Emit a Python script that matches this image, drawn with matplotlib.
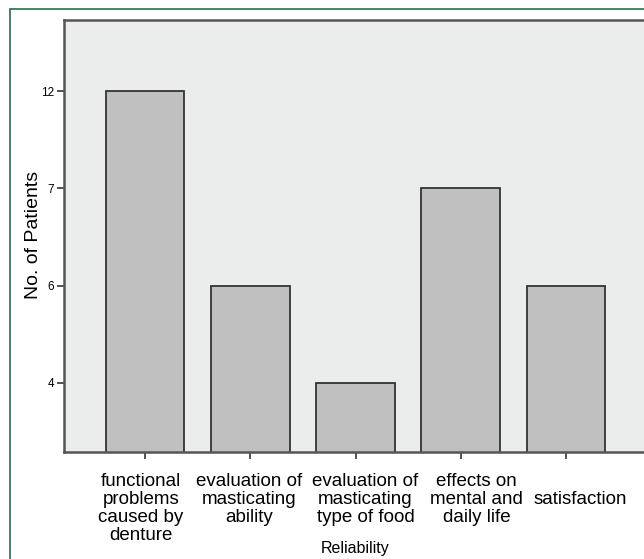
import matplotlib
matplotlib.use("Agg")
import matplotlib.pyplot as plt
from matplotlib.patches import Rectangle
from matplotlib.transforms import ScaledTranslation

categories = ["functional\nproblems\ncaused by\ndenture",
              "evaluation of\nmasticating\nability",
              "evaluation of\nmasticating\ntype of food",
              "effects on\nmental and\ndaily life",
              "\nsatisfaction"]
values = [12, 6, 4, 7, 6]
# SPSS treated the counts as categories, so the y axis is ordinal
y_levels = [4, 6, 7, 12]

# SPSS puts the wrapped labels a bit off their ticks (pixels)
label_shift = [-4, -1, 10, 16, 14]

plt.rcParams["font.family"] = ["Liberation Sans", "DejaVu Sans"]

W, H = 644, 559
fig = plt.figure(figsize=(W / 100, H / 100), dpi=100)

# green frame round the figure (right and bottom are cropped off)
fig.patches.append(Rectangle((10 / W, -0.1), 1.2, 1 - 9 / H + 0.1,
                             transform=fig.transFigure, fill=False,
                             edgecolor="#2f6b4c", linewidth=1.2))

ax = fig.add_axes([64 / W, 1 - 452 / H, (647 - 64) / W, (452 - 20) / H])
ax.set_facecolor("#ebecec")

xpos = list(range(len(categories)))
ypos = [y_levels.index(v) + 1 for v in values]
ax.bar(xpos, ypos, width=0.75, color="#c0c0c0", edgecolor="#333333",
       linewidth=1.3, zorder=2)

ax.set_xlim(-0.77, len(categories) - 1 + 0.77)
ax.set_ylim(0.29, len(y_levels) + 0.73)

ax.set_yticks(range(1, len(y_levels) + 1))
ax.set_yticklabels([str(v) for v in y_levels], fontsize=8.5)
ax.set_xticks(xpos)
ax.set_xticklabels(categories, fontsize=13.5, linespacing=1.07)
ax.tick_params(axis="both", length=5, width=1.2, color="#333333", pad=2)
ax.tick_params(axis="x", pad=10)
for lab, dx in zip(ax.get_xticklabels(), label_shift):
    lab.set_transform(lab.get_transform() +
                      ScaledTranslation(dx / 100, 0, fig.dpi_scale_trans))

for s in ["left", "bottom", "top"]:
    ax.spines[s].set_linewidth(1.8)
    ax.spines[s].set_color("#555555")
ax.spines["right"].set_visible(False)

ax.set_ylabel("No. of Patients", fontsize=14)
ax.yaxis.set_label_coords((34 - 64) / (647 - 64), (452 - 235) / (452 - 20))
ax.set_xlabel("Reliability", fontsize=11.5)
ax.xaxis.set_label_coords((355 - 64) / (647 - 64), -(549 - 452) / (452 - 20))
ax.xaxis.label.set_va("center")
ax.yaxis.label.set_va("center")

fig.savefig("out.png", dpi=100)
